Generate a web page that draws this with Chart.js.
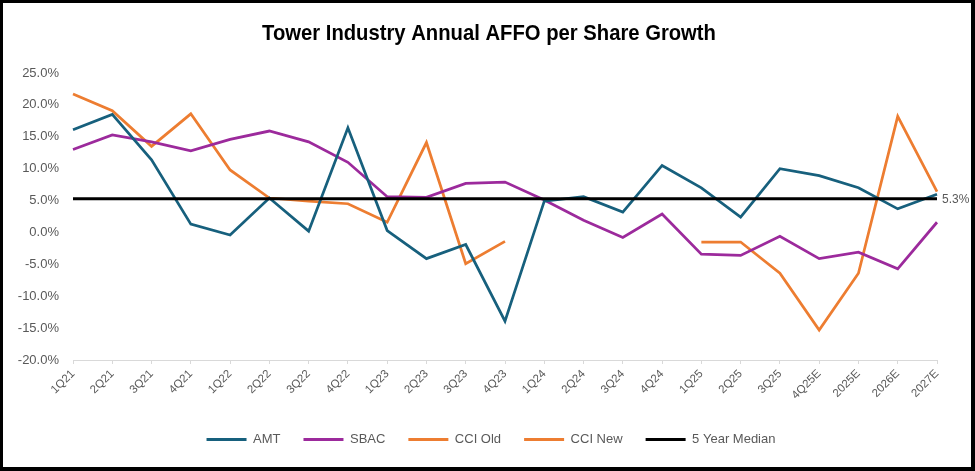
<!DOCTYPE html>
<html>
<head>
<meta charset="utf-8">
<script src="https://cdn.jsdelivr.net/npm/chart.js@4.4.1/dist/chart.umd.min.js"></script>
<style>
  html, body { margin: 0; padding: 0; background: #fff; }
  #frame {
    width: 968px; height: 464px;
    border-style: solid; border-color: #000;
    border-width: 3px 4px 4px 3px;
  }
  canvas { display: block; }
</style>
</head>
<body>
<div id="frame"><canvas id="chart-tower-affo" width="968" height="464"></canvas></div>
<script>
const categories = ['1Q21', '2Q21', '3Q21', '4Q21', '1Q22', '2Q22', '3Q22', '4Q22', '1Q23', '2Q23', '3Q23', '4Q23',
  '1Q24', '2Q24', '3Q24', '4Q24', '1Q25', '2Q25', '3Q25', '4Q25E', '2025E', '2026E', '2027E'];
const amt = [16.1, 18.5, 11.4, 1.3, -0.4, 5.4, 0.2, 16.4, 0.3, -4.1, -1.9, -13.9,
  4.9, 5.6, 3.2, 10.5, 7.0, 2.4, 10.0, 8.9, 7.0, 3.7, 6.0];
const sbac = [13.0, 15.3, 14.2, 12.8, 14.6, 15.9, 14.2, 11.0, 5.6, 5.5, 7.7, 7.9,
  5.1, 1.9, -0.8, 2.9, -3.4, -3.6, -0.6, -4.1, -3.1, -5.7, 1.6];
const cciOld = [21.7, 19.1, 13.5, 18.6, 9.8, 5.4, 4.9, 4.5, 1.6, 14.1, -4.9, -1.4,
  null, null, null, null, null, null, null, null, null, null, null];
const cciNew = [null, null, null, null, null, null, null, null, null, null, null, null,
  null, null, null, null, -1.5, -1.5, -6.4, -15.3, -6.4, 18.2, 6.4];
const median = [5.3, 5.3, 5.3, 5.3, 5.3, 5.3, 5.3, 5.3, 5.3, 5.3, 5.3, 5.3,
  5.3, 5.3, 5.3, 5.3, 5.3, 5.3, 5.3, 5.3, 5.3, 5.3, 5.3];

const COLORS = {
  amt: '#17607d',
  sbac: '#9c2a9c',
  cci: '#ed7d31',
  median: '#000000',
  text: '#595959',
  axis: '#d9d9d9',
};
const FONT = '"Liberation Sans", Arial, sans-serif';

// narrow bold title, squeezed horizontally since no condensed face is installed
const titleNarrow = {
  id: 'titleNarrow',
  afterDraw(chart) {
    const ctx = chart.ctx;
    ctx.save();
    ctx.font = 'bold 22px ' + FONT;
    ctx.fillStyle = '#000';
    ctx.textAlign = 'center';
    ctx.textBaseline = 'alphabetic';
    ctx.translate(486, 37);
    ctx.scale(0.92, 1);
    ctx.fillText('Tower Industry Annual AFFO per Share Growth', 0, 0);
    ctx.restore();
  },
};

// prints the median value just right of the line's last point
const medianLabel = {
  id: 'medianLabel',
  afterDatasetsDraw(chart) {
    const meta = chart.getDatasetMeta(4);
    const last = meta.data[meta.data.length - 1];
    const ctx = chart.ctx;
    ctx.save();
    ctx.font = '12px ' + FONT;
    ctx.fillStyle = COLORS.text;
    ctx.textBaseline = 'middle';
    ctx.fillText(median[median.length - 1].toFixed(1) + '%', last.x + 5, last.y + 1);
    ctx.restore();
  },
};

const line = (label, data, color, width, order) => ({
  label, data, order,
  borderColor: color,
  backgroundColor: color,
  borderWidth: width,
  pointRadius: 0,
  tension: 0,
  spanGaps: false,
});

new Chart(document.getElementById('chart-tower-affo'), {
  type: 'line',
  plugins: [medianLabel, titleNarrow],
  data: {
    labels: categories,
    datasets: [
      line('AMT', amt, COLORS.amt, 2.75, 2),
      line('SBAC', sbac, COLORS.sbac, 2.75, 3),
      line('CCI Old', cciOld, COLORS.cci, 2.75, 4),
      line('CCI New', cciNew, COLORS.cci, 2.75, 5),
      line('5 Year Median', median, COLORS.median, 3, 1),
    ],
  },
  options: {
    responsive: false,
    animation: false,
    layout: { padding: { left: 8, right: 0, top: 70, bottom: 11 } },
    scales: {
      x: {
        offset: false,
        afterFit: (scale) => { scale.height = 50; },
        grid: { display: true, drawOnChartArea: false, drawTicks: true, tickLength: 4, color: COLORS.axis },
        border: { display: true, color: COLORS.axis, width: 1 },
        ticks: {
          color: COLORS.text,
          font: { family: FONT, size: 11.5 },
          minRotation: 45, maxRotation: 45,
          autoSkip: false,
          padding: 3,
        },
      },
      y: {
        min: -20, max: 25,
        afterFit: (scale) => { scale.width = 62; },
        grid: { display: false, drawTicks: false },
        border: { display: false },
        ticks: {
          stepSize: 5,
          color: COLORS.text,
          font: { family: FONT, size: 13 },
          padding: 14,
          callback: (v) => v.toFixed(1) + '%',
        },
      },
      spacer: {
        position: 'right',
        afterFit: (scale) => { scale.width = 34; },
        grid: { display: false, drawTicks: false },
        border: { display: false },
        ticks: { display: false },
      },
    },
    plugins: {
      title: { display: false },
      legend: {
        position: 'bottom',
        labels: {
          color: COLORS.text,
          font: { family: FONT, size: 13 },
          boxWidth: 40,
          boxHeight: 3,
          padding: 23,
          generateLabels: (chart) => chart.data.datasets.map((ds, i) => ({
            text: ds.label,
            fillStyle: ds.borderColor,
            strokeStyle: ds.borderColor,
            lineWidth: 0,
            fontColor: COLORS.text,
            hidden: false,
            datasetIndex: i,
          })),
        },
      },
      tooltip: { enabled: false },
    },
  },
});
</script>
</body>
</html>
